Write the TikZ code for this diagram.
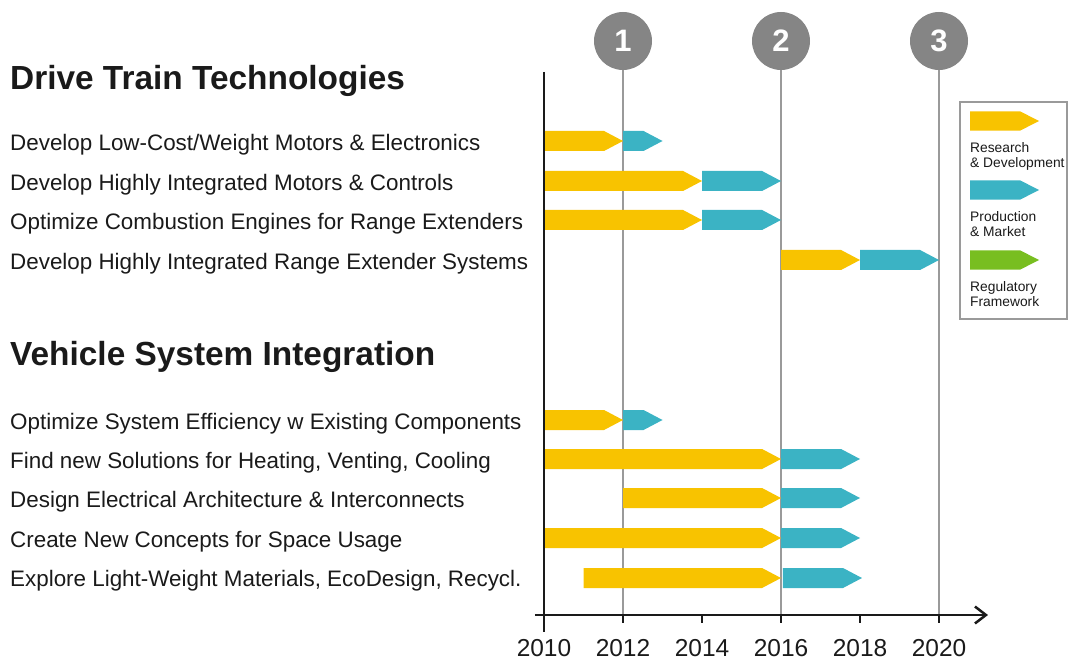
\documentclass[tikz,border=0pt]{standalone}
\usepackage{fontspec}
\setmainfont{Liberation Sans}
\usetikzlibrary{arrows.meta}
\definecolor{rdyellow}{HTML}{F8C300}
\definecolor{pmteal}{HTML}{3BB3C4}
\definecolor{rfgreen}{HTML}{78BE20}
\definecolor{mgray}{HTML}{858585}
\definecolor{lgray}{HTML}{9A9A9A}
\definecolor{txt}{HTML}{1A1A1A}
\tikzset{%
    >={Straight Barb[length=11pt,width=17pt]},
    rd/.style={fill=rdyellow},
    pm/.style={fill=pmteal},
    rf/.style={fill=rfgreen},
    task/.style={anchor=west,inner sep=0pt,text=txt,font=\fontsize{22.4}{26}\selectfont},
    head/.style={anchor=west,inner sep=0pt,text=txt,font=\fontsize{33.4}{38}\selectfont\bfseries},
    year/.style={anchor=base,inner sep=0pt,text=txt,font=\fontsize{24.5}{28}\selectfont},
    mile/.style={circle,fill=mgray,minimum size=58pt,inner sep=0pt,text=white,font=\fontsize{31}{34}\selectfont\bfseries},
    grid/.style={draw=lgray,line width=1.2pt},
    axis/.style={draw=txt,line width=2.5pt},
    legtxt/.style={anchor=north west,inner sep=0pt,align=left,text=txt,font=\fontsize{13.8}{15}\selectfont}
}
% bar: style, start, end, row (years from 2010)
\newcommand{\tbar}[4]{\fill[#1] (#2,#4-10) -- (#3-0.48,#4-10) -- (#3,#4) -- (#3-0.48,#4+10) -- (#2,#4+10) -- cycle;}
\newcommand{\legbar}[2]{\fill[#1] (970,#2-9.7) -- (1020,#2-9.7) -- (1039,#2) -- (1020,#2+9.7) -- (970,#2+9.7) -- cycle;}

\begin{document}
\begin{tikzpicture}[x=1pt,y=-1pt]
\useasboundingbox (0,0) rectangle (1068,660);
% headings
\node[head] (h-dt) at (10,81) {Drive Train Technologies};
\node[head] (h-vs) at (10,357) {Vehicle System Integration};
% task labels
\foreach \y/\t [count=\i] in {145/{Develop Low-Cost/Weight Motors \& Electronics},
    185/Develop Highly Integrated Motors \& Controls,
    224/Optimize Combustion Engines for Range Extenders,
    264/Develop Highly Integrated Range Extender Systems,
    424/Optimize System Efficiency w Existing Components,
    463/{Find new Solutions for Heating, Venting, Cooling},
    502/Design Electrical Architecture \& Interconnects,
    542/Create New Concepts for Space Usage,
    581/{Explore Light-Weight Materials, EcoDesign, Recycl.}}
    \node[task] (t-\i) at (10,\y) {\t};

\begin{scope}[shift={(544pt,0pt)},x=39.5pt]
% milestones and grid lines
\foreach \n/\yr in {1/2,2/6,3/10} {
    \node[mile] (m\n) at (\yr,41) {\n};
    \coordinate (g\n) at (\yr,615);
    \draw[grid] (m\n.south) -- (g\n);
}
% bars
\foreach \y/\a/\b/\c/\d in {141/0/2/2/3, 181/0/4/4/6, 220/0/4/4/6, 260/6/8/8/10,
    420/0/2/2/3, 459/0/6/6/8, 498/2/6/6/8, 538/0/6/6/8, 578/1/6/6.05/8.05} {
    \tbar{rd}{\a}{\b}{\y}
    \tbar{pm}{\c}{\d}{\y}
}
% axes
\coordinate (o-top) at (0,72);
\coordinate (o-bot) at (0,632);
\coordinate (x-left) at (-0.23,615);
\coordinate (x-right) at (11.24,615);
\draw[axis] (o-top) -- (o-bot);
\draw[axis,->] (x-left) -- (x-right);
\foreach \yr in {2,4,...,10}
    \draw[axis,line width=2pt] (\yr,615) -- (\yr,623);
\foreach \yr in {0,2,...,10} {
    \pgfmathtruncatemacro{\lbl}{2010+\yr}
    \node[year] (y\yr) at (\yr,656) {\lbl};
}
\end{scope}

% legend
\draw[draw=lgray,line width=1.5pt,fill=white] (960,102) rectangle (1067,319);
\legbar{rd}{121}
\node[legtxt] (l-rd) at (970,142) {Research\\\& Development};
\legbar{pm}{190}
\node[legtxt] (l-pm) at (970,211) {Production\\\& Market};
\legbar{rf}{260}
\node[legtxt] (l-rf) at (970,281) {Regulatory\\Framework};
\end{tikzpicture}
\end{document}
